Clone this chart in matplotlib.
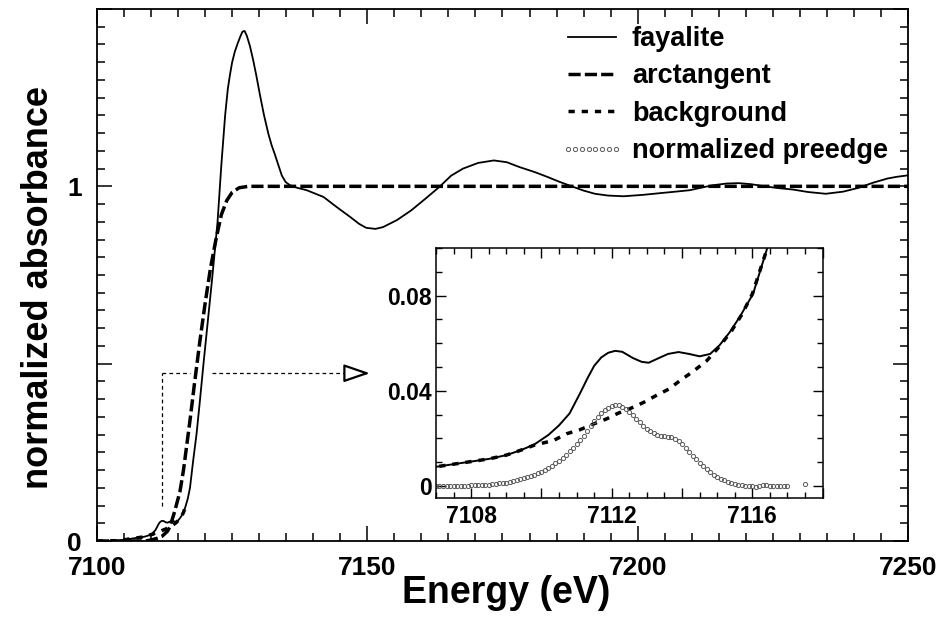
import matplotlib.pyplot as plt
import numpy as np
from matplotlib.lines import Line2D
from matplotlib.ticker import FixedLocator, FuncFormatter, MultipleLocator

plt.rcParams["font.family"] = ["Liberation Sans", "DejaVu Sans"]
plt.rcParams["font.weight"] = "bold"

# normalized Fe K-edge spectrum of fayalite
energy = [
    7100.0, 7104.0, 7107.0, 7107.5, 7108.0, 7108.5, 7109.0, 7109.4, 7109.8,
    7110.2, 7110.5, 7110.8, 7111.1, 7111.3, 7111.5, 7111.7, 7111.9, 7112.1,
    7112.3, 7112.6, 7112.85, 7113.05, 7113.3, 7113.6, 7113.9, 7114.2, 7114.5,
    7114.8, 7115.07, 7115.35, 7115.64, 7116.02, 7116.4, 7116.8, 7117.2,
    7117.8, 7118.4, 7119.0, 7119.7, 7120.5, 7121.3, 7122.3, 7123.0, 7123.7,
    7124.2, 7124.6, 7125.0, 7125.5, 7126.0, 7126.5, 7126.9, 7127.3, 7127.7,
    7128.3, 7128.9, 7129.5, 7130.1, 7130.9, 7131.7, 7132.3, 7132.9, 7133.5,
    7134.2, 7134.9, 7135.7, 7137.0, 7138.8, 7141.9, 7144.3, 7146.8, 7148.5,
    7149.8, 7151.5, 7152.9, 7155.5, 7158.1, 7160.5, 7163.3, 7165.5, 7167.7,
    7170.5, 7173.4, 7175.8, 7178.2, 7181.0, 7183.4, 7185.5, 7187.8, 7190.0,
    7192.1, 7194.5, 7197.4, 7201.0, 7204.3, 7207.0, 7209.6, 7212.0, 7213.9,
    7216.5, 7218.7, 7221.0, 7223.5, 7226.0, 7228.7, 7231.5, 7234.8, 7238.0,
    7240.9, 7243.5, 7246.2, 7248.0, 7250.0,
]
fayalite = [
    0.0, 0.001, 0.0081, 0.0092, 0.0103, 0.0114, 0.0130, 0.0150, 0.0175,
    0.0215, 0.0255, 0.0305, 0.0390, 0.0450, 0.0505, 0.0540, 0.0560, 0.0568,
    0.0564, 0.0538, 0.0522, 0.0518, 0.0535, 0.0555, 0.0563, 0.0555, 0.0545,
    0.0555, 0.0592, 0.0645, 0.0710, 0.0807, 0.0988, 0.120, 0.150,
    0.228, 0.300, 0.390, 0.500, 0.620, 0.740, 0.900, 1.060, 1.200,
    1.275, 1.315, 1.350, 1.380, 1.402, 1.422, 1.436, 1.438, 1.425,
    1.395, 1.355, 1.310, 1.261, 1.200, 1.148, 1.116, 1.090, 1.062,
    1.030, 1.012, 1.003, 0.996, 0.989, 0.970, 0.942, 0.914, 0.894,
    0.883, 0.880, 0.885, 0.905, 0.932, 0.962, 0.998, 1.030, 1.050,
    1.066, 1.073, 1.068, 1.054, 1.040, 1.026, 1.013, 1.000, 0.988,
    0.979, 0.974, 0.972, 0.976, 0.981, 0.985, 0.989, 0.997, 1.003,
    1.008, 1.009, 1.006, 1.000, 0.995, 0.991, 0.984, 0.979, 0.985,
    0.996, 1.010, 1.022, 1.027, 1.031,
]

# edge step modelled by an arctangent
arctan_energy = [
    7100.0, 7109.0, 7110.0, 7111.0, 7112.0, 7113.0, 7113.5, 7114.4, 7115.35,
    7116.0, 7116.6, 7117.2, 7118.0, 7119.0, 7120.0, 7121.0, 7122.0, 7123.0,
    7124.0, 7125.0, 7126.3, 7128.0, 7250.0,
]
arctangent = [
    0.0, 0.0, 0.003, 0.007, 0.013, 0.027, 0.040, 0.085, 0.140,
    0.200, 0.270, 0.340, 0.440, 0.560, 0.670, 0.770, 0.850, 0.920,
    0.960, 0.983, 0.996, 1.0, 1.0,
]

# background under the pre-edge
bkg_energy = [
    7100.0, 7104.0, 7107.0, 7107.5, 7108.0, 7108.5, 7109.0, 7109.4, 7109.8,
    7110.35, 7110.72, 7111.1, 7111.47, 7111.85, 7112.18, 7112.5, 7112.9,
    7113.26, 7113.62, 7113.97, 7114.3, 7114.7, 7115.05, 7115.4, 7115.7,
    7116.0, 7116.4,
]
background = [
    0.0, 0.001, 0.0081, 0.0092, 0.0103, 0.0114, 0.0130, 0.0150, 0.0172,
    0.0192, 0.0220, 0.0237, 0.0260, 0.0282, 0.0306, 0.0324, 0.0351,
    0.0380, 0.0407, 0.0446, 0.0480, 0.0526, 0.0584, 0.0650, 0.0720,
    0.0807, 0.0988,
]

# pre-edge after background subtraction, 0.1 eV steps from 7107 eV
preedge_energy = np.linspace(7107.0, 7117.0, 101)
preedge = [
    0.0000, 0.0000, 0.0000, 0.0001, 0.0000, 0.0001, 0.0001, 0.0001, 0.0002, 0.0002,
    0.0003, 0.0003, 0.0004, 0.0004, 0.0005, 0.0006, 0.0007, 0.0009, 0.0011, 0.0013,
    0.0015, 0.0018, 0.0021, 0.0025, 0.0029, 0.0033, 0.0037, 0.0042, 0.0047, 0.0053,
    0.0060, 0.0068, 0.0077, 0.0086, 0.0096, 0.0107, 0.0119, 0.0132, 0.0146, 0.0161,
    0.0177, 0.0194, 0.0212, 0.0231, 0.0252, 0.0272, 0.0291, 0.0307, 0.0320, 0.0330,
    0.0337, 0.0340, 0.0339, 0.0334, 0.0325, 0.0313, 0.0298, 0.0283, 0.0268, 0.0254,
    0.0241, 0.0230, 0.0221, 0.0215, 0.0211, 0.0209, 0.0208, 0.0205, 0.0199, 0.0189,
    0.0175, 0.0160, 0.0144, 0.0128, 0.0112, 0.0097, 0.0083, 0.0070, 0.0058, 0.0048,
    0.0039, 0.0031, 0.0024, 0.0018, 0.0013, 0.0009, 0.0006, 0.0003, 0.0001, 0.0000,
    0.0000, -0.0002, 0.0001, 0.0004, 0.0003, 0.0000, -0.0001, 0.0000, 0.0000, -0.0001,
    0.0000,
]

ARCTAN_DASH = (3.5, 1.2)
BKG_DASH = (1.8, 2.0)
PRE_STYLE = dict(ls="none", marker="o", ms=3.0, mfc="none", mec="#5a5a5a", mew=0.7)


def plot_main(ax: plt.Axes) -> list:
    (l_fay,) = ax.plot(energy, fayalite, color="black", lw=1.3, label="fayalite")
    (l_atan,) = ax.plot(
        arctan_energy, arctangent, color="black", lw=2.5, dashes=ARCTAN_DASH,
        label="arctangent",
    )
    (l_bkg,) = ax.plot(
        bkg_energy, background, color="black", lw=2.5, dashes=BKG_DASH,
        label="background",
    )

    # marker pointing from the pre-edge to the zoomed panel
    guide = dict(color="black", lw=0.9, dashes=(3, 2.5))
    ax.plot([7112, 7112], [0.10, 0.473], **guide)
    ax.plot([7112, 7117.2], [0.473, 0.473], **guide)
    ax.plot([7121.2, 7147.0], [0.473, 0.473], **guide)
    ax.annotate(
        "", xy=(7150.5, 0.473), xytext=(7146.5, 0.473),
        arrowprops=dict(
            arrowstyle="-|>,head_length=1.6,head_width=0.55",
            fc="white", ec="black", lw=1.6, shrinkA=0, shrinkB=0,
        ),
    )

    ax.set_xlim(7100, 7250)
    ax.set_ylim(0, 1.5)
    ax.xaxis.set_major_locator(MultipleLocator(50))
    ax.xaxis.set_minor_locator(MultipleLocator(5))
    ax.yaxis.set_major_locator(FixedLocator([0, 0.5, 1.0, 1.5]))
    ax.yaxis.set_major_formatter(
        FuncFormatter(lambda v, _: {0.0: "0", 1.0: "1"}.get(round(v, 2), ""))
    )
    ax.yaxis.set_minor_locator(MultipleLocator(0.05))
    ax.tick_params(which="both", direction="in", top=True, right=True, width=1.1)
    ax.tick_params(which="major", length=11, labelsize=19, pad=11)
    ax.tick_params(which="minor", length=6)
    for sp in ax.spines.values():
        sp.set_linewidth(1.3)

    ax.set_xlabel("Energy (eV)", fontsize=27, fontweight="bold")
    ax.xaxis.set_label_coords(0.505, -0.064)
    ax.set_ylabel("normalized absorbance", fontsize=26, fontweight="bold")
    ax.yaxis.set_label_coords(-0.05, 0.477)
    return [l_fay, l_atan, l_bkg]


def plot_inset(ax: plt.Axes) -> Line2D:
    ax.plot(energy, fayalite, color="black", lw=1.4)
    ax.plot(bkg_energy, background, color="black", lw=2.5, dashes=BKG_DASH)
    (l_pre,) = ax.plot(preedge_energy, preedge, label="normalized preedge", **PRE_STYLE)
    ax.plot([7117.5], [0.0008], **PRE_STYLE)

    ax.set_xlim(7107, 7118)
    ax.set_ylim(-0.005, 0.1)
    ax.xaxis.set_major_locator(MultipleLocator(2))
    ax.xaxis.set_minor_locator(MultipleLocator(0.5))
    ax.xaxis.set_major_formatter(
        FuncFormatter(lambda v, _: f"{v:.0f}" if round(v) % 4 == 0 else "")
    )
    ax.yaxis.set_major_locator(MultipleLocator(0.04))
    ax.yaxis.set_minor_locator(MultipleLocator(0.01))
    ax.yaxis.set_major_formatter(
        FuncFormatter(lambda v, _: "0" if abs(v) < 1e-9 else f"{v:.2f}")
    )
    ax.tick_params(which="both", direction="in", top=True, right=True, width=1.0)
    ax.tick_params(which="major", length=7, labelsize=16.5)
    ax.tick_params(axis="x", which="major", pad=5)
    ax.tick_params(axis="y", which="major", pad=3)
    ax.tick_params(which="minor", length=4)
    for sp in ax.spines.values():
        sp.set_linewidth(1.1)
    return l_pre


def main() -> None:
    fig = plt.figure(figsize=(9.38, 6.2), dpi=100)
    ax = fig.add_axes([0.1034, 0.1274, 0.8646, 0.8581])
    ax_in = fig.add_axes([0.4648, 0.1968, 0.4122, 0.4032])
    ax_in.set_facecolor("white")

    handles = plot_main(ax)
    handles.append(plot_inset(ax_in))

    ax.legend(
        handles=handles,
        loc="upper left",
        bbox_to_anchor=(0.571, 0.968),
        frameon=False,
        fontsize=19.5,
        handlelength=2.35,
        handletextpad=0.3,
        labelspacing=0.42,
        numpoints=8,
        borderpad=0,
        borderaxespad=0,
    )

    fig.savefig("out.png", dpi=100)


main()
